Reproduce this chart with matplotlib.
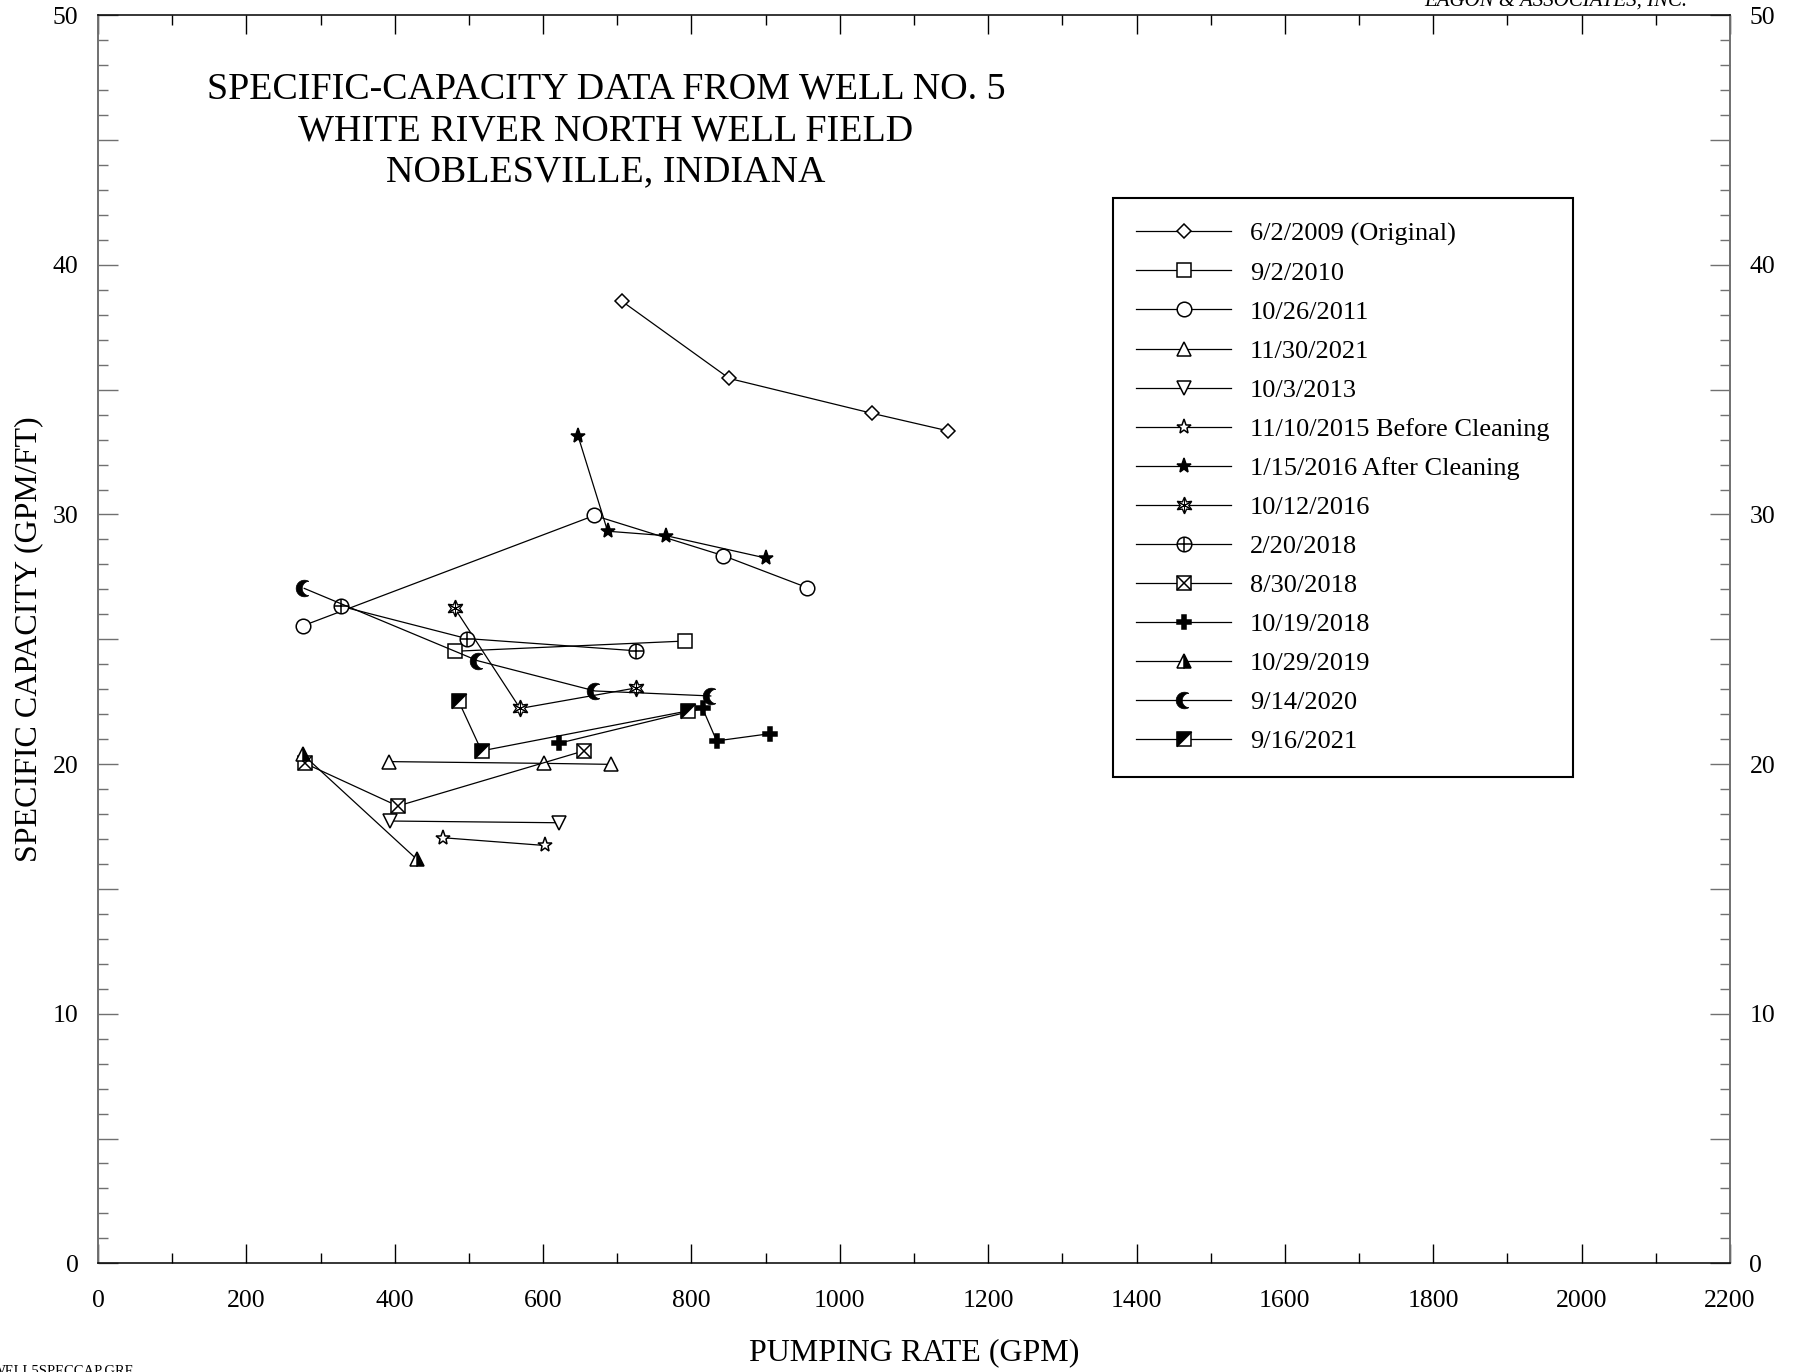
import numpy as np
import matplotlib
matplotlib.use('Agg')
import matplotlib.pyplot as plt
from matplotlib.path import Path
from matplotlib.ticker import MultipleLocator, FuncFormatter
from matplotlib.legend_handler import HandlerTuple

plt.rcParams['font.family'] = ['Liberation Serif', 'DejaVu Serif']

# pumping rate (gpm) / specific capacity (gpm/ft) for each test
x_2009 = [706, 851, 1044, 1146]
y_2009 = [38.55, 35.45, 34.05, 33.35]
x_2010 = [481, 791]
y_2010 = [24.52, 24.93]
x_2011 = [277, 669, 843, 956]
y_2011 = [25.55, 29.96, 28.35, 27.07]
x_2012 = [392, 601, 691]
y_2012 = [20.10, 20.03, 19.99]
x_2013 = [393, 621]
y_2013 = [17.72, 17.65]
x_2015 = [465, 602]
y_2015 = [17.05, 16.74]
x_2016a = [647, 687, 766, 901]
y_2016a = [33.16, 29.33, 29.15, 28.25]
x_2016b = [481, 569, 725]
y_2016b = [26.24, 22.23, 23.05]
x_2018a = [328, 497, 725]
y_2018a = [26.32, 25.03, 24.54]
x_2018b = [279, 404, 655]
y_2018b = [20.03, 18.32, 20.53]
x_2018c = [622, 815, 834, 906]
y_2018c = [20.84, 22.23, 20.93, 21.22]
x_2019 = [276, 430]
y_2019 = [20.39, 16.18]
x_2020 = [278, 512, 670, 826]
y_2020 = [27.04, 24.14, 22.93, 22.73]
x_2021 = [486, 517, 795]
y_2021 = [22.53, 20.53, 22.13]

labels = ['6/2/2009 (Original)', '9/2/2010', '10/26/2011', '11/30/2021',
          '10/3/2013', '11/10/2015 Before Cleaning', '1/15/2016 After Cleaning',
          '10/12/2016', '2/20/2018', '8/30/2018', '10/19/2018', '10/29/2019',
          '9/14/2020', '9/16/2021']


def moon_marker():
    # crescent, open side to the right
    t = np.linspace(np.radians(60), np.radians(300), 40)
    outer = np.column_stack([np.cos(t), np.sin(t)])
    c = 0.6
    r = np.hypot(0.1, np.sin(np.radians(60)))
    a0 = np.arctan2(-np.sin(np.radians(60)), 0.5 - c) % (2 * np.pi)
    a1 = np.arctan2(np.sin(np.radians(60)), 0.5 - c)
    p = np.linspace(a0, a1, 40)
    inner = np.column_stack([c + r * np.cos(p), r * np.sin(p)])
    verts = np.vstack([outer, inner, outer[:1]])
    codes = [Path.MOVETO] + [Path.LINETO] * (len(verts) - 2) + [Path.CLOSEPOLY]
    return Path(verts, codes)


MOON = moon_marker()
HALF_SQ = Path([(-1, -1), (1, 1), (-1, 1), (-1, -1)],
               [Path.MOVETO, Path.LINETO, Path.LINETO, Path.CLOSEPOLY])

W, H = 1796, 1372
fig = plt.figure(figsize=(W / 100, H / 100), dpi=100)
ax = fig.add_axes([98 / W, 1 - 1263.3 / H, (1730 - 98) / W, (1263.3 - 15.3) / H])

lw = 0.9
mew = 1.1
open_kw = dict(mfc='white', mec='black', mew=mew)
fill_kw = dict(mfc='black', mec='black', mew=mew)

series = [
    (x_2009, y_2009, dict(marker='D', ms=7.5, **open_kw), None),
    (x_2010, y_2010, dict(marker='s', ms=10.5, **open_kw), None),
    (x_2011, y_2011, dict(marker='o', ms=10.5, **open_kw), None),
    (x_2012, y_2012, dict(marker='^', ms=10.5, **open_kw), None),
    (x_2013, y_2013, dict(marker='v', ms=10.5, **open_kw), None),
    (x_2015, y_2015, dict(marker='*', ms=11, **open_kw), None),
    (x_2016a, y_2016a, dict(marker='*', ms=11, **fill_kw), None),
    (x_2016b, y_2016b, dict(marker=(6, 1, 0), ms=12, mfc='white', mec='black', mew=1.0),
     dict(marker=(6, 2, 0), ms=10, mec='black', mew=0.7)),
    (x_2018a, y_2018a, dict(marker='o', ms=10.5, **open_kw),
     dict(marker='+', ms=10.5, mec='black', mew=mew)),
    (x_2018b, y_2018b, dict(marker='s', ms=10.5, **open_kw),
     dict(marker='x', ms=10.5, mec='black', mew=mew)),
    (x_2018c, y_2018c, dict(marker='P', ms=10.5, **fill_kw), None),
    (x_2019, y_2019, dict(marker='^', ms=10.5, fillstyle='right', mfc='black',
                          mfcalt='white', mec='black', mew=mew), None),
    (x_2020, y_2020, dict(marker=MOON, ms=12, mfc='black', mec='black', mew=0.5), None),
    (x_2021, y_2021, dict(marker='s', ms=10.5, **open_kw),
     dict(marker=HALF_SQ, ms=10.5, mfc='black', mec='black', mew=0.6)),
]

handles = []
for (xs, ys, base, over), lab in zip(series, labels):
    h, = ax.plot(xs, ys, color='black', lw=lw, **base)
    if over is not None:
        o, = ax.plot(xs, ys, ls='none', **over)
        handles.append((h, o))
    else:
        handles.append(h)

ax.set_xlim(0, 2200)
ax.set_ylim(0, 50)
ax.xaxis.set_major_locator(MultipleLocator(200))
ax.xaxis.set_minor_locator(MultipleLocator(100))
ax.yaxis.set_major_locator(MultipleLocator(5))
ax.yaxis.set_minor_locator(MultipleLocator(1))
ax.yaxis.set_major_formatter(FuncFormatter(lambda v, p: f'{v:.0f}' if v % 10 == 0 else ''))

gray = '#707070'
ax.spines['left'].set_color(gray)
ax.spines['right'].set_color(gray)
for s in ['left', 'right']:
    ax.spines[s].set_linewidth(1.4)
for s in ['top', 'bottom']:
    ax.spines[s].set_linewidth(1.1)

ax.tick_params(axis='x', which='both', direction='in', top=True, width=1.0,
               labelsize=18.5, pad=19)
ax.tick_params(axis='x', which='major', length=13.7)
ax.tick_params(axis='x', which='minor', length=7)
ax.tick_params(axis='y', which='both', direction='in', left=True, right=True,
               labelleft=True, labelright=True, color=gray, width=1.0,
               labelsize=18.5, pad=14)
ax.tick_params(axis='y', which='major', length=14.4)
ax.tick_params(axis='y', which='minor', length=7)

ax.set_xlabel('PUMPING RATE (GPM)', fontsize=23, labelpad=19)
ax.set_ylabel('SPECIFIC CAPACITY (GPM/FT)', fontsize=23, labelpad=6.7)

title_lines = ['SPECIFIC-CAPACITY DATA FROM WELL NO. 5',
               'WHITE RIVER NORTH WELL FIELD',
               'NOBLESVILLE, INDIANA']
for i, t in enumerate(title_lines):
    fig.text(606 / W, 1 - (89.5 + 41.3 * i) / H, t, ha='center', va='center', fontsize=27.4)

leg = ax.legend(handles, labels, loc='upper right',
                bbox_to_anchor=(1573 / W, 1 - 198 / H), bbox_transform=fig.transFigure,
                handler_map={tuple: HandlerTuple(ndivide=1, pad=0)},
                fontsize=19, frameon=True, fancybox=False, edgecolor='black',
                framealpha=1, borderaxespad=0, borderpad=0.9, labelspacing=0.59,
                handlelength=3.6, handletextpad=0.7)
leg.get_frame().set_linewidth(1.5)

fig.text(1687 / W, 1 - 6 / H, 'EAGON & ASSOCIATES, INC.', ha='right', va='baseline',
         fontsize=15, style='italic')
fig.text(-8 / W, -3 / H, 'WELL5SPECCAP.GRF', ha='left', va='baseline', fontsize=10.5)

fig.savefig('out.png', dpi=100)
